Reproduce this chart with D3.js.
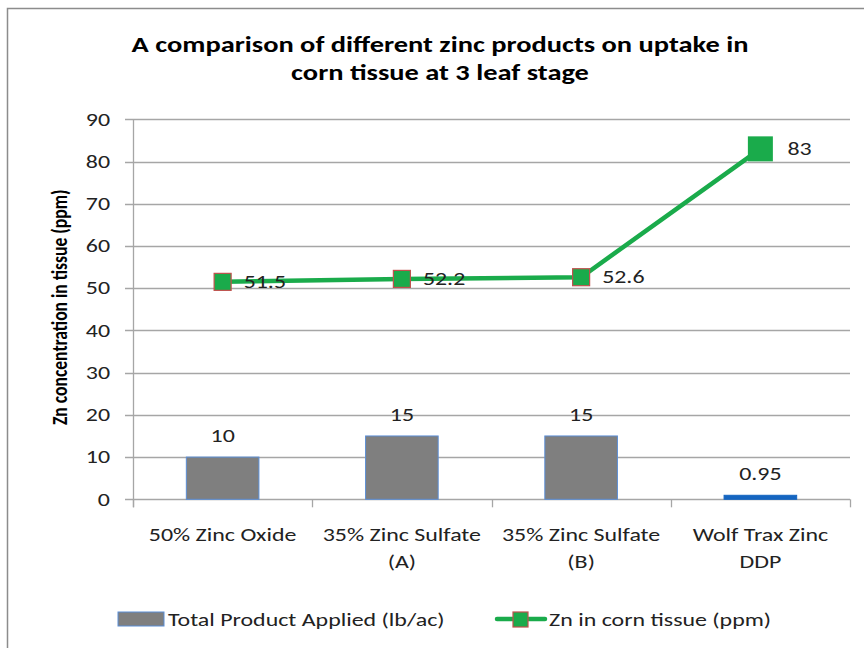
<!DOCTYPE html>
<html><head><meta charset="utf-8">
<script src="https://cdnjs.cloudflare.com/ajax/libs/d3/7.8.5/d3.min.js"></script>
<style>body{margin:0;background:#fff}svg{display:block}</style>
</head><body>
<script>
const categories = [["50% Zinc Oxide"], ["35% Zinc Sulfate", "(A)"], ["35% Zinc Sulfate", "(B)"], ["Wolf Trax Zinc", "DDP"]];
const productApplied = [10, 15, 15, 0.95];
const znTissue = [51.5, 52.2, 52.6, 83];
const yTicks = [0, 10, 20, 30, 40, 50, 60, 70, 80, 90];
const titleLines = ["A comparison of different zinc products on uptake in", "corn tissue at 3 leaf stage"];
const yTitle = "Zn concentration in tissue (ppm)";
const legendNames = ["Total Product Applied (lb/ac)", "Zn in corn tissue (ppm)"];

const W = 864, H = 648;
const SX = 1.33;
const m = {left: 133, right: 850, top: 119.3, bottom: 499.3};
const svg = d3.select("body").append("svg").attr("width", W).attr("height", H);

svg.append("rect").attr("x", 7.5).attr("y", 8.5).attr("width", 870).attr("height", 660)
  .attr("fill", "#fff").attr("stroke", "#8c8c8c").attr("stroke-width", 1.5);

const font = "Calibri, Carlito, 'Open Sans', sans-serif";
const tr = (x, y) => `translate(${x},${y}) scale(${SX},1)`;

// title
svg.append("g").selectAll("text").data(titleLines).join("text")
  .attr("transform", (d, i) => tr(440, 52 + i * 28))
  .attr("text-anchor", "middle").attr("font-family", font)
  .attr("font-weight", "bold").attr("font-size", 21.4).attr("fill", "#000").text(d => d);

const idx = categories.map((d, i) => i);
const x = d3.scaleBand().domain(idx).range([m.left, m.right]).paddingInner(0).paddingOuter(0);
const y = d3.scaleLinear().domain([0, 90]).range([m.bottom, m.top]);

// grid
svg.append("g").selectAll("line").data(yTicks).join("line")
  .attr("x1", m.left - 8).attr("x2", m.right)
  .attr("y1", d => Math.round(y(d)) + 0.5).attr("y2", d => Math.round(y(d)) + 0.5)
  .attr("stroke", "#a6a6a6").attr("stroke-width", 1.3);

// y axis
const yAxis = d3.axisLeft(y).tickValues(yTicks).tickSize(0).tickPadding(0);
const gy = svg.append("g").attr("transform", `translate(${m.left},0)`).call(yAxis);
gy.select(".domain").remove();
gy.selectAll("text").attr("x", -23 / SX).attr("transform", `scale(${SX},1)`)
  .attr("font-family", font).attr("font-size", 18).attr("fill", "#222");
svg.append("line").attr("x1", m.left + 0.5).attr("x2", m.left + 0.5).attr("y1", m.top).attr("y2", m.bottom + 8)
  .attr("stroke", "#a6a6a6").attr("stroke-width", 1.3);

// x axis
const xAxis = d3.axisBottom(x).tickSize(0).tickFormat(() => "");
const gx = svg.append("g").attr("transform", `translate(0,${m.bottom})`).call(xAxis);
gx.select(".domain").remove();
svg.append("g").selectAll("line").data(d3.range(categories.length + 1)).join("line")
  .attr("x1", d => Math.round(m.left + d * x.bandwidth()) + 0.5)
  .attr("x2", d => Math.round(m.left + d * x.bandwidth()) + 0.5)
  .attr("y1", m.bottom).attr("y2", m.bottom + 8).attr("stroke", "#a6a6a6").attr("stroke-width", 1.3);

const cat = svg.append("g").selectAll("text").data(categories).join("text")
  .attr("transform", (d, i) => tr(x(i) + x.bandwidth() / 2, 0)).attr("text-anchor", "middle")
  .attr("font-family", font).attr("font-size", 18).attr("fill", "#222");
cat.each(function(d) {
  d3.select(this).selectAll("tspan").data(d).join("tspan")
    .attr("x", 0).attr("y", (t, j) => 541 + j * 27).text(t => t);
});

// y title
svg.append("text").attr("transform", `translate(67,${(m.top + m.bottom) / 2 - 2}) rotate(-90) scale(1,1.25)`)
  .attr("text-anchor", "middle").attr("font-family", font).attr("font-weight", "bold")
  .attr("font-size", 17.6).attr("fill", "#000").text(yTitle);

// bars
const bw = x.bandwidth() * 0.405;
svg.append("g").selectAll("rect").data(productApplied).join("rect")
  .attr("x", (d, i) => x(i) + (x.bandwidth() - bw) / 2)
  .attr("y", d => y(d)).attr("width", bw).attr("height", d => y(0) - y(d))
  .attr("fill", (d, i) => i === 3 ? "#1565c0" : "#7f7f7f")
  .attr("stroke", (d, i) => i === 3 ? "#1565c0" : "#5b8ed6").attr("stroke-width", 1);

svg.append("g").selectAll("text").data(productApplied).join("text")
  .attr("transform", (d, i) => tr(x(i) + x.bandwidth() / 2, y(d) - 15))
  .attr("text-anchor", "middle").attr("font-family", font).attr("font-size", 18).attr("fill", "#222")
  .text(d => d);

// line
const cx = i => x(i) + x.bandwidth() / 2;
svg.append("path").datum(znTissue)
  .attr("d", d3.line().x((d, i) => cx(i)).y(d => y(d)))
  .attr("fill", "none").attr("stroke", "#1aab4b").attr("stroke-width", 4.5);

svg.append("g").selectAll("rect").data(znTissue).join("rect")
  .attr("x", (d, i) => cx(i) - (i === 3 ? 12.5 : 8.5))
  .attr("y", (d, i) => y(d) - (i === 3 ? 12.5 : 8.5))
  .attr("width", (d, i) => i === 3 ? 25 : 17).attr("height", (d, i) => i === 3 ? 25 : 17)
  .attr("fill", "#1aab4b").attr("stroke", (d, i) => i === 3 ? "none" : "#c0504d").attr("stroke-width", 1.2);

svg.append("g").selectAll("text").data(znTissue).join("text")
  .attr("transform", (d, i) => tr(cx(i) + (i === 3 ? 27 : 21), y(d) + 6))
  .attr("font-family", font).attr("font-size", 18).attr("fill", "#222").text(d => d);

// legend
const lg = svg.append("g");
lg.append("rect").attr("x", 118).attr("y", 612).attr("width", 46).attr("height", 14)
  .attr("fill", "#7f7f7f").attr("stroke", "#5b8ed6").attr("stroke-width", 1);
lg.append("text").attr("transform", tr(168, 626)).attr("font-family", font).attr("font-size", 18)
  .attr("fill", "#222").text(legendNames[0]);
lg.append("line").attr("x1", 497).attr("x2", 545).attr("y1", 619).attr("y2", 619)
  .attr("stroke", "#1aab4b").attr("stroke-width", 4.5).attr("stroke-linecap", "round");
lg.append("rect").attr("x", 513).attr("y", 612).attr("width", 15).attr("height", 15)
  .attr("fill", "#1aab4b").attr("stroke", "#c0504d").attr("stroke-width", 1.2);
lg.append("text").attr("transform", tr(549, 626)).attr("font-family", font).attr("font-size", 18)
  .attr("fill", "#222").text(legendNames[1]);
</script>
</body></html>
